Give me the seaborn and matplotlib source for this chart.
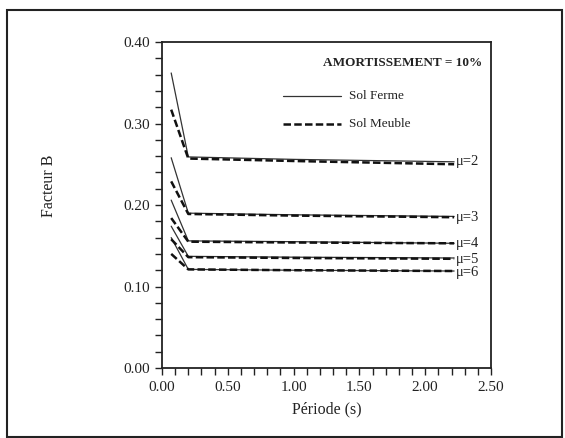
import numpy as np
import pandas as pd
import matplotlib
matplotlib.use("Agg")
import matplotlib.pyplot as plt
from matplotlib.lines import Line2D
from matplotlib.patches import Rectangle
from matplotlib.ticker import MultipleLocator, FormatStrFormatter
import seaborn as sns

# ---- data ----
periode = [0.07, 0.20, 1.00, 2.22]
mu_values = [2, 3, 4, 5, 6]
ferme_mu2 = [0.362, 0.259, 0.256, 0.253]
ferme_mu3 = [0.258, 0.190, 0.188, 0.186]
ferme_mu4 = [0.206, 0.156, 0.155, 0.153]
ferme_mu5 = [0.174, 0.137, 0.136, 0.135]
ferme_mu6 = [0.160, 0.121, 0.120, 0.119]
meuble_mu2 = [0.317, 0.257, 0.254, 0.250]
meuble_mu3 = [0.229, 0.189, 0.187, 0.185]
meuble_mu4 = [0.184, 0.155, 0.154, 0.153]
meuble_mu5 = [0.158, 0.136, 0.135, 0.134]
meuble_mu6 = [0.140, 0.121, 0.120, 0.119]
mu_labels = ["μ=2", "μ=3", "μ=4", "μ=5", "μ=6"]
mu_label_y = [0.253, 0.185, 0.153, 0.133, 0.117]
sol_labels = ["Sol Ferme", "Sol Meuble"]
title_text = "AMORTISSEMENT = 10%"
x_ticks = [0.0, 0.5, 1.0, 1.5, 2.0, 2.5]
y_ticks = [0.0, 0.1, 0.2, 0.3, 0.4]

ferme = [ferme_mu2, ferme_mu3, ferme_mu4, ferme_mu5, ferme_mu6]
meuble = [meuble_mu2, meuble_mu3, meuble_mu4, meuble_mu5, meuble_mu6]
rows = []
for m, fv, mv in zip(mu_values, ferme, meuble):
    for t, v in zip(periode, fv):
        rows.append({"T": t, "B": v, "mu": m, "sol": sol_labels[0]})
    for t, v in zip(periode, mv):
        rows.append({"T": t, "B": v, "mu": m, "sol": sol_labels[1]})
df = pd.DataFrame(rows)

sns.set_theme(style="ticks")
plt.rcParams["font.family"] = ["Liberation Serif", "DejaVu Serif"]
plt.rcParams["mathtext.fontset"] = "stix"

fig = plt.figure(figsize=(5.65, 4.38), dpi=100)
ax = fig.add_axes([0.2867, 0.1598, 0.5823, 0.7443])

# solid lines (Sol Ferme)
sns.lineplot(data=df[df["sol"] == sol_labels[0]], x="T", y="B", units="mu",
             estimator=None, sort=False, color="#333333", lw=0.9, ax=ax, legend=False)
# dashed lines (Sol Meuble)
sns.lineplot(data=df[df["sol"] == sol_labels[1]], x="T", y="B", units="mu",
             estimator=None, sort=False, color="#111111", lw=1.8, ax=ax, legend=False,
             dashes=False, linestyle=(0, (3.0, 1.3)))

ax.set_xlim(0, 2.5)
ax.set_ylim(0, 0.4)
ax.set_xticks(x_ticks)
ax.set_yticks(y_ticks)
ax.xaxis.set_minor_locator(MultipleLocator(0.1))
ax.yaxis.set_minor_locator(MultipleLocator(0.02))
ax.xaxis.set_major_formatter(FormatStrFormatter("%.2f"))
ax.yaxis.set_major_formatter(FormatStrFormatter("%.2f"))
ax.tick_params(which="both", direction="out", length=5, width=1.0, color="#222222",
               labelsize=11, labelcolor="#222222")
ax.tick_params(axis="x", pad=4)
for s in ax.spines.values():
    s.set_linewidth(1.3)
    s.set_color("#222222")

ax.set_xlabel("Période (s)", fontsize=11.5, color="#222222", labelpad=6)
ax.set_ylabel("Facteur B", fontsize=11.5, color="#222222")
ax.yaxis.set_label_coords(-0.32, 0.56)

# mu labels
for lab, yv in zip(mu_labels, mu_label_y):
    ax.text(2.235, yv, lab, fontsize=10.5, va="center", ha="left", color="#222222")

# legend
ax.text(1.83, 0.374, title_text, fontsize=9.5, fontweight="bold", ha="center",
        va="center", color="#222222")
ax.add_line(Line2D([0.92, 1.36], [0.334, 0.334], color="#333333", lw=0.9))
ax.add_line(Line2D([0.92, 1.36], [0.300, 0.300], color="#111111", lw=1.8,
                   linestyle=(0, (3.0, 1.3))))
ax.text(1.42, 0.334, sol_labels[0], fontsize=9.5, va="center", ha="left", color="#222222")
ax.text(1.42, 0.300, sol_labels[1], fontsize=9.5, va="center", ha="left", color="#222222")

# outer frame
fig.patches.append(Rectangle((7 / 565, 1 / 438), 555 / 565, 427 / 438,
                             transform=fig.transFigure, fill=False,
                             edgecolor="#222222", lw=1.5))

fig.savefig("out.png", dpi=100)
